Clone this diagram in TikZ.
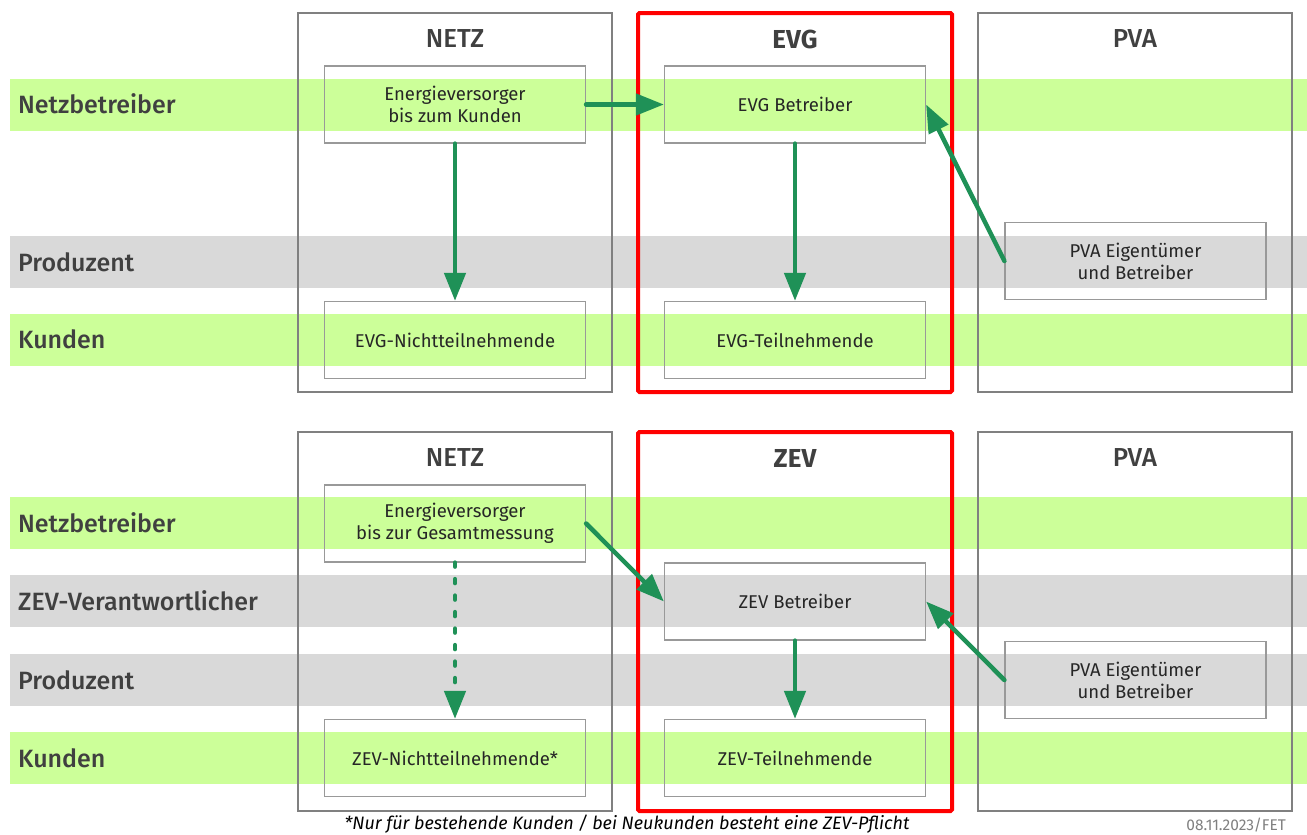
\documentclass[tikz,border=0pt]{standalone}
\usepackage{fontspec}
\setmainfont{Fira Sans}
\newfontfamily\medfont{Fira Sans Medium}
\usetikzlibrary{arrows.meta}
\definecolor{bandgreen}{RGB}{204,255,153}
\definecolor{bandgrey}{RGB}{217,217,217}
\definecolor{flowgreen}{RGB}{31,145,87}
\definecolor{textgrey}{RGB}{64,64,64}
\definecolor{framegrey}{RGB}{128,128,128}
\tikzset{
    rowlabel/.style={anchor=west,inner sep=0pt,text=textgrey,font=\medfont\fontsize{25}{30}\selectfont},
    colhead/.style={inner sep=0pt,text=textgrey,font=\medfont\fontsize{26}{30}\selectfont},
    colframe/.style={draw=framegrey,line width=1.5pt},
    focusframe/.style={draw=red,line width=4pt,rounded corners=1.5pt},
    role/.style={
        draw=framegrey!80,line width=1.2pt,
        minimum width=261pt,minimum height=77pt,inner sep=0pt,
        align=center,text=black!85,font=\fontsize{18.5}{22}\selectfont
    },
    flow/.style={-{Triangle[length=28pt,width=21pt]},flowgreen,line width=4.5pt,line cap=round}
}

\begin{document}
\begin{tikzpicture}[x=1pt,y=-1pt]
\useasboundingbox (0,0) rectangle (1307,835);
% bands
\fill[bandgreen] (10,79) rectangle (1307,131);
\fill[bandgrey] (10,236) rectangle (1307,288);
\fill[bandgreen] (10,314) rectangle (1307,366);
\fill[bandgreen] (10,497) rectangle (1307,549);
\fill[bandgrey] (10,575) rectangle (1307,627);
\fill[bandgrey] (10,654) rectangle (1307,706);
\fill[bandgreen] (10,732) rectangle (1307,784);
\node[rowlabel] (nb1) at (18,104) {Netzbetreiber};
\node[rowlabel] (pr1) at (18,262) {Produzent};
\node[rowlabel] (ku1) at (18,339) {Kunden};
\node[rowlabel] (nb2) at (18,523) {Netzbetreiber};
\node[rowlabel] (zv2) at (18,601) {ZEV-Verantwortlicher};
\node[rowlabel] (pr2) at (18,680) {Produzent};
\node[rowlabel] (ku2) at (18,758) {Kunden};
% columns
\foreach \y in {0,419} {
    \draw[colframe] (298,13+\y) rectangle (612,392+\y);
    \draw[focusframe] (638,13+\y) rectangle (952,392+\y);
    \draw[colframe] (978,13+\y) rectangle (1292,392+\y);
}
\node[colhead] (netz1) at (455,39) {NETZ};
\node[colhead,font=\fontsize{26}{30}\selectfont\bfseries] (evg) at (795,39) {EVG};
\node[colhead] (pva1h) at (1135,39) {PVA};
\node[colhead] (netz2) at (455,458) {NETZ};
\node[colhead,font=\fontsize{26}{30}\selectfont\bfseries] (zev) at (795,458) {ZEV};
\node[colhead] (pva2h) at (1135,458) {PVA};
% EVG
\node[role] (ev1) at (455,104.5) {Energieversorger\\bis zum Kunden};
\node[role] (evgb) at (795,104.5) {EVG Betreiber};
\node[role] (pva1) at (1135.5,261) {PVA Eigentümer\\und Betreiber};
\node[role] (nt1) at (455,340) {EVG-Nichtteilnehmende};
\node[role] (tn1) at (795,340) {EVG-Teilnehmende};
\draw[flow] (ev1.east) -- (evgb.west);
\draw[flow] (ev1.south) -- (nt1.north);
\draw[flow] (evgb.south) -- (tn1.north);
\draw[flow] (pva1.west) -- (evgb.east);
% ZEV
\node[role] (ev2) at (455,523.5) {Energieversorger\\bis zur Gesamtmessung};
\node[role] (zevb) at (795,601.5) {ZEV Betreiber};
\node[role] (pva2) at (1135.5,680) {PVA Eigentümer\\und Betreiber};
\node[role] (nt2) at (455,758) {ZEV-Nichtteilnehmende*};
\node[role] (tn2) at (795,758) {ZEV-Teilnehmende};
\draw[flow] (ev2.east) -- (zevb.west);
\draw[flow,dash pattern=on 4pt off 12.5pt] (ev2.south) -- (nt2.north);
\draw[flow] (zevb.south) -- (tn2.north);
\draw[flow] (pva2.west) -- (zevb.east);
\node[inner sep=0pt,font=\fontsize{18}{22}\selectfont\itshape] (note) at (627,824) {*Nur für bestehende Kunden / bei Neukunden besteht eine ZEV-Pflicht};
\node[anchor=east,inner sep=0pt,text=framegrey,font=\fontsize{15.5}{18}\selectfont] (stamp) at (1286,825) {08.11.2023/FET};
\end{tikzpicture}
\end{document}
